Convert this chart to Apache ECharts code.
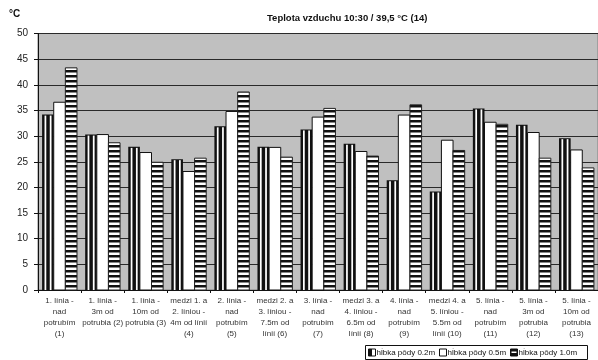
<!DOCTYPE html>
<html>
<head>
<meta charset="utf-8">
<script src="https://cdn.jsdelivr.net/npm/echarts@6/dist/echarts.min.js"></script>
<style>
  html, body { margin: 0; padding: 0; background: #fff; }
  #chart { width: 598px; height: 360px; }
</style>
</head>
<body>
<div id="chart"></div>
<script>
// Measuring points along the pipeline
const categories = [
  '1. línia -\nnad\npotrubím\n(1)',
  '1. línia -\n3m od\npotrubia (2)',
  '1. línia -\n10m od\npotrubia (3)',
  'medzi 1. a\n2. líniou -\n4m od línií\n(4)',
  '2. línia -\nnad\npotrubím\n(5)',
  'medzi 2. a\n3. líniou -\n7.5m od\nlínií (6)',
  '3. línia -\nnad\npotrubím\n(7)',
  'medzi 3. a\n4. líniou -\n6.5m od\nlínií (8)',
  '4. línia -\nnad\npotrubím\n(9)',
  'medzi 4. a\n5. líniou -\n5.5m od\nlínií (10)',
  '5. línia -\nnad\npotrubím\n(11)',
  '5. línia -\n3m od\npotrubia\n(12)',
  '5. línia -\n10m od\npotrubia\n(13)'
];

// Soil temperature (°C) at three depths
const depth02 = [34.2, 30.3, 27.9, 25.5, 31.9, 27.9, 31.3, 28.5, 21.4, 19.2, 35.4, 32.2, 29.6];
const depth05 = [36.6, 30.3, 26.8, 23.1, 34.8, 27.8, 33.7, 27.0, 34.1, 29.2, 32.7, 30.7, 27.3];
const depth10 = [43.3, 28.7, 24.9, 25.7, 38.6, 25.9, 35.4, 26.1, 36.1, 27.2, 32.3, 25.7, 23.8];

const seriesNames = ['hĺbka pôdy 0.2m', 'hĺbka pôdy 0.5m', 'hĺbka pôdy 1.0m'];
const chartTitle = 'Teplota vzduchu 10:30 / 39,5 °C (14)';
const unitLabel = '°C';

// Horizontal black/white stripe fill
function stripePattern() {
  const c = document.createElement('canvas');
  c.width = 4; c.height = 5;
  const g = c.getContext('2d');
  g.fillStyle = '#fff'; g.fillRect(0, 0, 4, 5);
  g.fillStyle = '#111'; g.fillRect(0, 0, 4, 2.5);
  return c;
}
const stripes = { image: stripePattern(), repeat: 'repeat' };

const GROUP_RATIO = 0.81;

function barRect(k, api) {
  const idx = api.value(0);
  const v = api.value(1);
  const base = api.coord([idx, 0]);
  const top = api.coord([idx, v]);
  const band = api.size([1, 0])[0];
  const groupW = band * GROUP_RATIO;
  const bw = groupW / 3;
  const x = base[0] - groupW / 2 + k * bw;
  return { x: x, y: top[1], width: bw, height: base[1] - top[1] };
}

function renderVertical(params, api) {
  const r = barRect(0, api);
  const w = r.width;
  const children = [
    { type: 'rect', shape: r, style: { fill: '#111' } },
    { type: 'rect', shape: { x: r.x + w * 0.21, y: r.y + 1, width: w * 0.15, height: r.height - 1 }, style: { fill: '#fff' } },
    { type: 'rect', shape: { x: r.x + w * 0.66, y: r.y + 1, width: w * 0.15, height: r.height - 1 }, style: { fill: '#fff' } }
  ];
  return { type: 'group', children: children };
}

function renderPlain(params, api) {
  const r = barRect(1, api);
  return { type: 'rect', shape: r, style: { fill: '#fff', stroke: '#111', lineWidth: 1 } };
}

function renderStriped(params, api) {
  const r = barRect(2, api);
  return { type: 'rect', shape: r, style: { fill: stripes, stroke: '#222', lineWidth: 1 } };
}

const chart = echarts.init(document.getElementById('chart'), null, { renderer: 'canvas' });

const legendFont = '8px "Liberation Sans", Arial, sans-serif';

chart.setOption({
  animation: false,
  backgroundColor: '#fff',
  title: {
    text: chartTitle,
    left: 262,
    top: 8,
    textStyle: { fontFamily: '"Liberation Sans", Arial, sans-serif', fontSize: 9.5, fontWeight: 'bold', color: '#111' }
  },
  grid: {
    left: 38, right: -4, top: 33.5, bottom: 70,
    show: true, backgroundColor: '#c0c0c0', borderColor: '#808080', borderWidth: 1
  },
  xAxis: {
    type: 'category',
    data: categories,
    axisLine: { lineStyle: { color: '#111', width: 1 } },
    axisTick: { show: true, alignWithLabel: false, length: 3, lineStyle: { color: '#111' } },
    axisLabel: {
      interval: 0, fontSize: 8, lineHeight: 11, margin: 5, color: '#333',
      fontFamily: '"Liberation Sans", Arial, sans-serif'
    },
    splitLine: { show: false }
  },
  yAxis: {
    type: 'value',
    min: 0, max: 50, interval: 5,
    axisLine: { show: true, lineStyle: { color: '#111', width: 1 } },
    axisTick: { show: true, length: 4, lineStyle: { color: '#111' } },
    axisLabel: { fontSize: 10, color: '#222', margin: 10, fontFamily: '"Liberation Sans", Arial, sans-serif' },
    splitLine: { show: true, lineStyle: { color: '#2a2a2a', width: 1 } }
  },
  series: [
    { name: seriesNames[0], type: 'custom', renderItem: renderVertical, data: depth02.map((v, i) => [i, v]), encode: { x: 0, y: 1 } },
    { name: seriesNames[1], type: 'custom', renderItem: renderPlain, data: depth05.map((v, i) => [i, v]), encode: { x: 0, y: 1 } },
    { name: seriesNames[2], type: 'custom', renderItem: renderStriped, data: depth10.map((v, i) => [i, v]), encode: { x: 0, y: 1 } }
  ],
  graphic: [
    { type: 'text', left: 9, top: 9, style: { text: unitLabel, font: 'bold 10px "Liberation Sans", Arial, sans-serif', fill: '#111' } },
    { type: 'text', left: 313, top: 180, style: { text: ')', font: '9px "Liberation Sans", Arial, sans-serif', fill: '#333' } },
    {
      type: 'group', left: 365, top: 345,
      children: [
        { type: 'rect', shape: { x: 0, y: 0, width: 222, height: 14 }, style: { fill: '#fff', stroke: '#111', lineWidth: 1 } },
        // 0.2m key
        { type: 'rect', shape: { x: 3, y: 3.5, width: 7, height: 7 }, style: { fill: '#fff', stroke: '#111', lineWidth: 1 } },
        { type: 'rect', shape: { x: 3, y: 3.5, width: 3.5, height: 7 }, style: { fill: '#111' } },
        { type: 'text', x: 11, y: 3, style: { text: seriesNames[0], font: legendFont, fill: '#111' } },
        // 0.5m key
        { type: 'rect', shape: { x: 74, y: 3.5, width: 7, height: 7 }, style: { fill: '#fff', stroke: '#111', lineWidth: 1 } },
        { type: 'text', x: 82, y: 3, style: { text: seriesNames[1], font: legendFont, fill: '#111' } },
        // 1.0m key
        { type: 'rect', shape: { x: 145, y: 3.5, width: 7, height: 7 }, style: { fill: '#111', stroke: '#111', lineWidth: 1 } },
        { type: 'rect', shape: { x: 146, y: 6, width: 5, height: 1.5 }, style: { fill: '#fff' } },
        { type: 'text', x: 153, y: 3, style: { text: seriesNames[2], font: legendFont, fill: '#111' } }
      ]
    }
  ]
});
</script>
</body>
</html>
